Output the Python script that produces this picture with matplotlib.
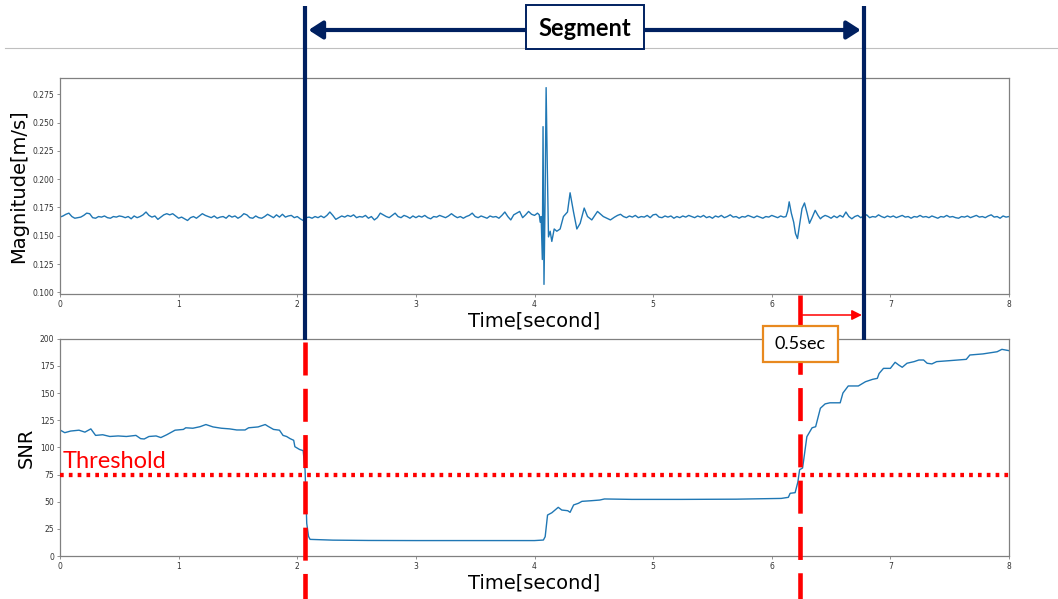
import numpy as np
import matplotlib.pyplot as plt
from matplotlib.lines import Line2D
from matplotlib.patches import Rectangle, FancyArrowPatch
from matplotlib.transforms import blended_transform_factory

# ---- magnitude signal, in 1e-3 m/s ----
step = 0.025
# t = 0.000 .. 4.025
mag_a = [166.5, 167.5, 169, 170, 167, 165.5, 166, 166.5, 168, 170,
         169.5, 166, 165.5, 167, 166.5, 167.5, 166, 165.5, 167, 166.5,
         167.5, 167, 166, 167, 165, 167.5, 166, 167, 168.5, 171,
         168, 166.5, 167.5, 164.5, 166.5, 168.5, 169.5, 168.5, 169.5, 167.5,
         165.5, 166.5, 165, 163.5, 166, 167, 165.5, 167.5, 169.5, 168,
         167, 166, 167.5, 165.5, 166.5, 167, 165.5, 168, 166.5, 167.5,
         165.5, 167, 169.5, 168.5, 166, 165.5, 167.5, 166, 165.5, 167,
         169, 167.5, 166, 168.5, 166.5, 169, 166.5, 167.5, 168, 166,
         167, 165, 163.5, 166, 166.5, 165.5, 167, 166, 167.5, 166,
         168, 171, 168, 164.5, 166, 167.5, 166.5, 168, 167, 168.5,
         166, 167, 166.5, 168, 165.5, 167, 164, 166, 170, 168.5,
         167, 166, 168, 170, 167, 166, 168, 167, 165.5, 167.5,
         166, 167.5, 166.5, 168, 166, 165, 167, 166.5, 168, 167,
         166, 167.5, 169.5, 167.5, 166, 167, 165.5, 167, 168, 170,
         167, 166, 167.5, 166.5, 165.5, 167.5, 166.5, 167, 165.5, 168,
         171, 167, 164, 168.5, 170, 171.5, 166, 168.5, 171.5, 169,
         168, 170]
# first event
mag_b_t = [4.040, 4.048, 4.056, 4.066, 4.072, 4.080, 4.089, 4.098, 4.108, 4.118,
           4.132, 4.146, 4.166, 4.188, 4.216, 4.244, 4.278, 4.300, 4.329, 4.357,
           4.385, 4.419, 4.447, 4.483, 4.531, 4.580, 4.640]
mag_b = [168.5, 162, 167, 129, 246.5, 107, 180, 281, 210, 149,
         154, 145, 156, 154, 156, 167, 171, 188, 171, 156,
         161, 174.5, 167, 164, 171.5, 167, 164]
# t = 4.675 .. 6.100
mag_c = [166.5, 168, 169, 167, 166, 167.5, 166.5, 168, 166, 167,
         166.5, 168, 166, 168.5, 169, 166.5, 166, 167.5, 166.5, 167.5,
         165.5, 167, 166, 167.5, 166.5, 168, 167, 166, 167.5, 166.5,
         168, 166, 167, 165.5, 167.5, 166.5, 168, 166, 167, 168.5,
         166.5, 167, 165.5, 167, 166.5, 168, 167, 166, 167.5, 166.5,
         165.5, 167, 166.5, 168, 167, 166, 167.5, 166.5]
# second event
mag_d_t = [6.120, 6.135, 6.147, 6.165, 6.185, 6.200, 6.217, 6.235, 6.255, 6.276,
           6.298, 6.318, 6.340, 6.366, 6.390, 6.410]
mag_d = [167, 172, 180, 170, 162, 152, 147.5, 160, 174, 179,
         170, 161, 166, 172.5, 168, 165]
# t = 6.425 .. 8.000
mag_e = [166.5, 168, 167, 165.5, 167.5, 166, 168, 166.5, 171, 167,
         165, 167, 168, 166, 167.5, 168.5, 166, 167, 166.5, 168.5,
         167, 166, 167.5, 166.5, 167.5, 166, 167, 168, 166.5, 167,
         165.5, 167, 166.5, 168, 166.5, 167, 166, 167.5, 166.5, 165.5,
         167, 166.5, 168, 166.5, 167, 166, 165.5, 167, 166.5, 167.5,
         166, 167, 168, 166.5, 167, 166, 167.5, 168.5, 166.5, 167,
         165.5, 167.5, 166.5, 167]

# ---- SNR ----
snr_t = [0, 0.04, 0.09, 0.16, 0.21, 0.26, 0.30, 0.36, 0.42, 0.49,
         0.56, 0.64, 0.68, 0.71, 0.75, 0.81, 0.85, 0.90, 0.97, 1.04,
         1.06, 1.12, 1.18, 1.23, 1.29, 1.36, 1.43, 1.49, 1.56, 1.59,
         1.67, 1.73, 1.75, 1.80, 1.85, 1.88, 1.91, 1.94, 1.97, 1.98,
         2.02, 2.05, 2.066, 2.08, 2.095, 2.108, 2.3, 2.6, 3.0, 3.5,
         4.0, 4.075, 4.09, 4.11, 4.146, 4.20, 4.23, 4.28, 4.30, 4.33,
         4.37, 4.40, 4.48, 4.55, 4.59, 4.82, 5.24, 5.7, 6.08, 6.14,
         6.155, 6.197, 6.22, 6.235, 6.26, 6.296, 6.34, 6.37, 6.41, 6.45,
         6.49, 6.577, 6.6, 6.645, 6.73, 6.79, 6.85, 6.89, 6.905, 6.942,
         7.0, 7.04, 7.07, 7.10, 7.14, 7.2, 7.24, 7.28, 7.31, 7.35,
         7.39, 7.5, 7.64, 7.67, 7.78, 7.9, 7.94, 8.0]
snr = [116, 113.5, 115, 115.8, 114, 117, 111, 111.6, 110, 110.5,
       110, 111, 108, 107.7, 110, 110.5, 109, 111.6, 115.8, 116.5,
       118, 117.6, 119, 121, 118.8, 117.6, 117, 116, 116, 118,
       118.8, 121, 119.6, 116.5, 115.8, 111, 110, 108, 106.5, 100.6,
       98, 97, 79, 30, 18, 15.3, 14.6, 14.3, 14.2, 14.2,
       14.2, 14.7, 17.8, 37.7, 39.8, 44.8, 42.3, 41.7, 40.2, 47,
       48.5, 50.3, 50.9, 51.5, 52.5, 52.1, 52.1, 52.3, 53, 54,
       57.7, 58.3, 68, 79.4, 81, 109.8, 118, 119, 136, 140,
       141, 141, 150, 156.5, 156.5, 160.4, 162.6, 163.5, 168, 172.7,
       172.7, 178.3, 175.8, 173.7, 177.4, 178.9, 180.4, 180.4, 177.4, 176.8,
       178.9, 179.8, 181, 185, 186, 188, 190.2, 189]
threshold = 75

seg_start, seg_end = 2.066, 6.78
cross_t = 6.24

t_mag = np.concatenate([np.arange(len(mag_a)) * step,
                        mag_b_t,
                        4.675 + np.arange(len(mag_c)) * step,
                        mag_d_t,
                        6.425 + np.arange(len(mag_e)) * step])
mag = np.concatenate([mag_a, mag_b, mag_c, mag_d, mag_e]) / 1000.0

W, H = 1058, 599
fig = plt.figure(figsize=(W / 100, H / 100), dpi=100)
ax1 = fig.add_axes([60 / W, 1 - 294 / H, 949 / W, 216 / H])
ax2 = fig.add_axes([60 / W, 1 - 556 / H, 949 / W, 217.3 / H])

navy = '#002060'
orange = '#E8891F'
calibri = ['Lato', 'DejaVu Sans']

ax1.plot(t_mag, mag, color='#1f77b4', lw=1.0)
ax1.set_xlim(0, 8)
ax1.set_ylim(0.0985, 0.2895)
ax1.set_yticks(np.arange(0.1, 0.2751, 0.025))
ax1.set_xlabel('Time[second]', fontsize=14, labelpad=2)
ax1.set_ylabel('Magnitude[m/s]', fontsize=14, labelpad=3)

ax2.plot(snr_t, snr, color='#1f77b4', lw=1.0)
ax2.axhline(threshold, color='red', lw=3.1, linestyle=(0, (0.86, 1.19)), zorder=3)
ax2.text(0.025, 81, 'Threshold', color='red', fontsize=17, family=calibri, va='baseline')
ax2.set_xlim(0, 8)
ax2.set_ylim(0, 200)
ax2.set_yticks(range(0, 201, 25))
ax2.set_xlabel('Time[second]', fontsize=14, labelpad=2)
ax2.set_ylabel('SNR', fontsize=14, labelpad=3)

for ax in (ax1, ax2):
    for s in ax.spines.values():
        s.set_color('#808080')
        s.set_linewidth(0.9)
    ax.tick_params(labelsize=5.5, length=2.5, width=0.6, pad=1.5,
                   color='#808080', labelcolor='#333333')

# figure level annotations: x in data units, y in figure pixels from top
bt = blended_transform_factory(ax1.transData, fig.transFigure)
fy = lambda p: 1 - p / H

fig.add_artist(Line2D([5 / W, 1], [fy(48), fy(48)], transform=fig.transFigure,
                      color='#BFBFBF', lw=0.8, zorder=1))

for x in (seg_start, seg_end):
    fig.add_artist(Line2D([x, x], [fy(6), fy(340)], transform=bt,
                          color=navy, lw=3, solid_capstyle='butt', zorder=5))

fig.add_artist(FancyArrowPatch((seg_start, fy(30)), (seg_end, fy(30)), transform=bt,
                               arrowstyle='<|-|>,head_length=0.7,head_width=0.45',
                               mutation_scale=12, color=navy, lw=3,
                               shrinkA=2.5, shrinkB=2.5, zorder=5))
fig.add_artist(Rectangle((526 / W, fy(49)), 118 / W, 44 / H, transform=fig.transFigure,
                         facecolor='white', edgecolor=navy, lw=1.4, zorder=6))
fig.text(585 / W, fy(28), 'Segment', ha='center', va='center', fontsize=17,
         fontweight='bold', family=calibri, zorder=7)

# red dashed markers
for x, top in ((seg_start, 342), (cross_t, 295)):
    fig.add_artist(Line2D([x, x], [fy(top), fy(H + 5)], transform=bt, color='red',
                          lw=3.3, linestyle=(0, (7.2, 2.9)), zorder=5))

fig.add_artist(FancyArrowPatch((cross_t + 0.02, fy(315)), (seg_end - 0.02, fy(315)),
                               transform=bt, arrowstyle='-|>,head_length=0.6,head_width=0.3',
                               mutation_scale=10, color='red', lw=1.1,
                               shrinkA=0, shrinkB=0, zorder=5))
fig.add_artist(Rectangle((763 / W, fy(362)), 75 / W, 36 / H, transform=fig.transFigure,
                         facecolor='white', edgecolor=orange, lw=1.6, zorder=6))
fig.text(800.5 / W, fy(344), '0.5sec', ha='center', va='center', fontsize=13,
         family=calibri, zorder=7)

fig.savefig('out.png', dpi=100)
